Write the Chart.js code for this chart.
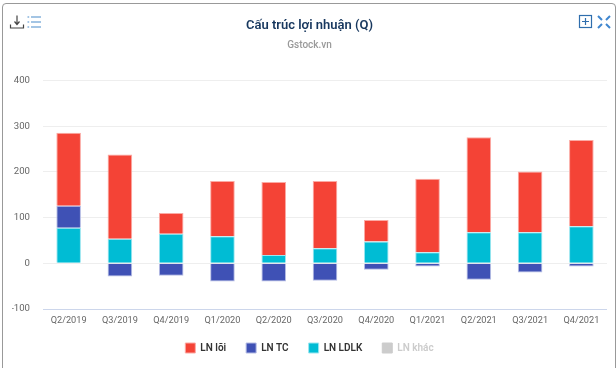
<!DOCTYPE html>
<html>
<head>
<meta charset="utf-8">
<title>Cấu trúc lợi nhuận (Q)</title>
<script src="https://cdn.jsdelivr.net/npm/chart.js@4/dist/chart.umd.min.js"></script>
<style>
html, body { margin: 0; padding: 0; background: #fff; overflow: hidden; }
#khung { position: absolute; left: 2px; top: 3px; width: 612px; height: 400px; border: 1px solid #999; border-radius: 4px; }
#bieudo { position: absolute; left: 0; top: 0; }
.icon { position: absolute; top: 14px; }
</style>
</head>
<body>
<div id="khung"></div>
<canvas id="bieudo" width="616" height="368"></canvas>
<!-- icon tải về, danh sách, thêm, phóng to -->
<svg class="icon" style="left:9px" width="16" height="16" viewBox="0 0 16 16" fill="none" stroke="#444" stroke-width="1.2">
  <path d="M8 1.5V10M5.5 7.5L8 10.5L10.5 7.5M1.5 10.5V14H14.5V10.5"/>
</svg>
<svg class="icon" style="left:26px" width="16" height="16" viewBox="0 0 16 16" fill="none" stroke="#4a8bc9" stroke-width="1.1">
  <path d="M5 3H15M5 8H15M5 13H15M1.5 3H3.2M1.5 8H3.2M1.5 13H3.2"/>
</svg>
<svg class="icon" style="left:578px" width="16" height="16" viewBox="0 0 16 16" fill="none" stroke="#2f6ead" stroke-width="1.2">
  <rect x="1.5" y="1.5" width="12" height="12"/><path d="M7.5 4V11M4 7.5H11"/>
</svg>
<svg class="icon" style="left:596px" width="16" height="16" viewBox="0 0 16 16" fill="none" stroke="#3f86cf" stroke-width="2">
  <path d="M2 2L6 6M14 2L10 6M2 14L6 10M14 14L10 10"/>
</svg>
<script>
// Dữ liệu
const quarters = ['Q2/2019', 'Q3/2019', 'Q4/2019', 'Q1/2020', 'Q2/2020', 'Q3/2020', 'Q4/2020', 'Q1/2021', 'Q2/2021', 'Q3/2021', 'Q4/2021'];
const lnLoi = [160, 184, 45, 121, 160, 147, 47, 161, 208, 133, 189];
const lnTc = [48, -29, -27, -40, -40, -38, -14, -7, -36, -20, -7];
const lnLdlk = [78, 54, 65, 59, 18, 33, 48, 24, 68, 68, 81];
const lnKhac = [0, 0, 0, 0, 0, 0, 0, 0, 0, 0, 0];

const FONT = 'Roboto, "Noto Sans", sans-serif';

function taoBar(label, data, mau, vien, hidden) {
    return {
        label: label,
        data: data,
        backgroundColor: mau,
        borderColor: vien,
        borderWidth: 1,
        stack: 'a',
        hidden: !!hidden,
        barPercentage: 1,
        categoryPercentage: 0.48
    };
}

// Trục x thấp hơn chiều cao nhãn nên phải nới vùng vẽ nhãn, nếu không nhãn bị cắt
const noiNhanTrucX = {
    id: 'noiNhanTrucX',
    beforeDraw(chart) { chart.scales.x.bottom = chart.height; }
};

// Thứ tự dataset từ dưới lên trên cột, legend thì đảo lại
new Chart(document.getElementById('bieudo'), {
    type: 'bar',
    plugins: [noiNhanTrucX],
    data: {
        labels: quarters,
        datasets: [
            taoBar('LN khác', lnKhac, '#cccccc', '#cccccc', true),
            taoBar('LN LDLK', lnLdlk, '#00bcd4', '#9ae6f0'),
            taoBar('LN TC', lnTc, '#3f51b5', '#b5bce4'),
            taoBar('LN lõi', lnLoi, '#f44336', '#fbaaa4')
        ]
    },
    options: {
        responsive: false,
        animation: false,
        layout: { padding: { left: 12, right: 9, top: 18, bottom: 5 } },
        plugins: {
            tooltip: { enabled: false },
            title: {
                display: true,
                text: 'Cấu trúc lợi nhuận (Q)',
                color: '#17375e',
                font: { family: FONT, size: 13, weight: '600' },
                padding: { top: 0, bottom: 6 }
            },
            subtitle: {
                display: true,
                text: 'Gstock.vn',
                color: '#999999',
                font: { family: FONT, size: 10, weight: '500' },
                padding: { top: 0, bottom: 29 }
            },
            legend: {
                position: 'bottom',
                reverse: true,
                labels: {
                    boxWidth: 10,
                    boxHeight: 10,
                    padding: 20,
                    color: '#333333',
                    font: { family: FONT, size: 10, weight: '600' },
                    generateLabels(chart) {
                        // bỏ gạch ngang của series ẩn, chỉ để màu xám
                        return chart.data.datasets.map((ds, i) => ({
                            text: ds.label,
                            fillStyle: ds.backgroundColor,
                            strokeStyle: ds.borderColor,
                            lineWidth: 1,
                            fontColor: ds.hidden ? '#cccccc' : '#333333',
                            hidden: false,
                            datasetIndex: i
                        }));
                    }
                }
            }
        },
        scales: {
            x: {
                stacked: true,
                afterFit(scale) { scale.height = 14; },
                grid: { display: false, drawTicks: false },
                border: { display: false },
                ticks: { color: '#666666', font: { family: FONT, size: 9.2 }, maxRotation: 0, autoSkip: false, padding: 6 }
            },
            y: {
                stacked: true,
                min: -100,
                max: 400,
                afterFit(scale) { scale.width = 31; },
                border: { display: false },
                grid: {
                    drawTicks: false,
                    color: (ctx) => ctx.tick.value === -100 ? '#ccd6eb' : '#eeeeee'
                },
                ticks: { stepSize: 100, color: '#666666', font: { family: FONT, size: 9.6 }, padding: 13 }
            }
        }
    }
});
</script>
</body>
</html>
